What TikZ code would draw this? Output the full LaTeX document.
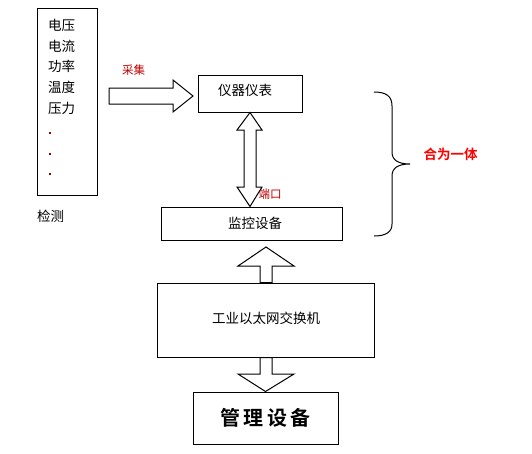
\documentclass[tikz,border=0pt]{standalone}
\usepackage{fontspec}
\setmainfont{Noto Sans CJK SC}
\newfontfamily\cjkb{Noto Sans CJK SC Bold}
\definecolor{lblred}{HTML}{C00000}
\definecolor{dotred}{HTML}{990000}
\definecolor{brightred}{HTML}{FF0000}
\begin{document}
\begin{tikzpicture}[x=1pt,y=-1pt,
  box/.style={draw,line width=1pt,inner sep=0pt},
  arr/.style={draw,line width=1pt,fill=white,line join=miter},
  txt/.style={inner sep=0pt,font=\fontsize{13.5}{14}\selectfont},
  lbl/.style={inner sep=0pt,text=lblred,font=\fontsize{11.5}{12}\selectfont}]
\useasboundingbox (0,0) rectangle (532,453);
% boxes
\node[box,minimum width=60pt,minimum height=187pt] (src) at (67,101.5) {};
\node[box,minimum width=104pt,minimum height=37pt] (inst) at (250,93.5) {};
\node[box,minimum width=181pt,minimum height=33pt] (mon) at (251.5,223.5) {};
\node[box,minimum width=217pt,minimum height=74pt] (sw) at (265.5,320) {};
\node[box,minimum width=145pt,minimum height=52pt] (mgr) at (265.5,418) {};
% texts
\node[txt,anchor=west] (t1) at (48,25) {电压};
\node[txt,anchor=west] (t2) at (48,46) {电流};
\node[txt,anchor=west] (t3) at (48,66) {功率};
\node[txt,anchor=west] (t4) at (48,87) {温度};
\node[txt,anchor=west] (t5) at (48,108) {压力};
\fill[dotred] (49,132) rectangle (51,134);
\fill[dotred] (49,153) rectangle (51,155);
\fill[dotred] (49,173) rectangle (51,175);
\node[txt,anchor=west] (det) at (37,216) {检测};
\node[txt] (tinst) at (245,90) {仪器仪表};
\node[txt] (tmon) at (255,223) {监控设备};
\node[txt] (tsw) at (266,318) {工业以太网交换机};
\node[inner sep=0pt,font=\cjkb\fontsize{20}{22}\selectfont] (tmgr) at (265.5,418) {管\,理\,设\,备};
\node[lbl] (cj) at (133.5,70) {采集};
\node[lbl] (dk) at (270,194) {端口};
\node[inner sep=0pt,text=brightred,font=\cjkb\fontsize{13.5}{14}\selectfont] (hw) at (450.5,154) {合为一体};
% arrows
\draw[arr] (109,88) -- (173,88) -- (173,80) -- (193,96) -- (173,112) -- (173,104) -- (109,104) -- cycle;
\draw[arr] (inst.south -| 250,0) -- (262,130) -- (256,130) -- (256,187) -- (262,187) -- (mon.north -| 250,0) -- (237,187) -- (244,187) -- (244,130) -- (237,130) -- cycle;
\draw[arr] (266,247) -- (294,266) -- (272,266) -- (sw.north -| 272,0) -- (sw.north -| 260,0) -- (260,266) -- (238,266) -- cycle;
\draw[arr] (sw.south -| 260,0) -- (sw.south -| 272,0) -- (272,374) -- (294,374) -- (mgr.north) -- (238,374) -- (260,374) -- cycle;
% brace
\draw[line width=1pt] (374,92) .. controls (386,92) and (392,96) .. (392,106) -- (392,152) .. controls (392,160) and (398,164) .. (410,164) .. controls (398,164) and (392,168) .. (392,176) -- (392,224) .. controls (392,232) and (386,236) .. (374,236);
\end{tikzpicture}
\end{document}
